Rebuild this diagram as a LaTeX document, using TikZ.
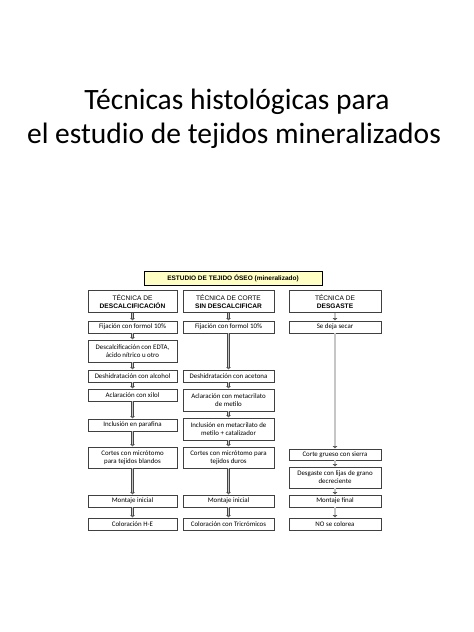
\documentclass[tikz,border=0pt]{standalone}
\usepackage{fontspec}
\setmainfont{Carlito}
\newfontfamily\arialf{Liberation Sans}
\usetikzlibrary{arrows.meta}
\definecolor{hdrfill}{HTML}{FFFFC4}
\definecolor{boxline}{HTML}{404040}
\begin{document}
\begin{tikzpicture}[x=1pt,y=-1pt,
  stepbox/.style={draw=boxline, line width=0.6pt, fill=white, inner sep=0pt, align=center,
     font=\fontsize{6.9}{8.2}\selectfont},
  colhead/.style={stepbox, font=\arialf\fontsize{6.6}{8.5}\selectfont},
  arr/.style={draw=gray!55!black, line width=0.5pt, double=gray!45, double distance=1.5pt,
     -{Triangle[open, length=2.5pt, width=4.4pt]}, shorten >=0.2pt},
  titlefont/.style={font=\fontsize{29.5}{34}\selectfont, anchor=base}
]
\useasboundingbox (0,0) rectangle (474,632);

% title
\node[titlefont] (title1) at (237,109) {Técnicas histológicas para};
\node[titlefont] (title2) at (234,143) {el estudio de tejidos mineralizados};

% main header
\node[draw=black, line width=0.6pt, fill=hdrfill, minimum width=178pt, minimum height=14pt,
  inner sep=0pt, font=\arialf\bfseries\fontsize{6.5}{8}\selectfont] (main) at (233,278)
  {ESTUDIO DE TEJIDO ÓSEO (mineralizado)};

% column headers
\node[colhead, minimum width=89pt, minimum height=22pt] (hdesc) at (132.5,301.5)
  {TÉCNICA DE\\\textbf{DESCALCIFICACIÓN}};
\node[colhead, minimum width=91pt, minimum height=22pt] (hsin) at (228.5,301.5)
  {TÉCNICA DE CORTE\\\textbf{SIN DESCALCIFICAR}};
\node[colhead, minimum width=92pt, minimum height=22pt] (hdesg) at (335,301.5)
  {TÉCNICA DE\\\textbf{DESGASTE}};

% column 1
\begin{scope}[every node/.append style={minimum width=89pt}]
\node[stepbox, minimum height=12pt] (dcA) at (132.5,327) {Fijación con formol 10\%};
\node[stepbox, minimum height=22pt] (dcB) at (132.5,351) {Descalcificación con EDTA,\\ácido nítrico u otro};
\node[stepbox, minimum height=12pt] (dcC) at (132.5,376) {Deshidratación con alcohol};
\node[stepbox, minimum height=12pt] (dcD) at (132.5,395) {Aclaración con xilol};
\node[stepbox, minimum height=12pt] (dcE) at (132.5,425) {Inclusión en parafina};
\node[stepbox, minimum height=21pt] (dcF) at (132.5,457.5) {Cortes con micrótomo\\para tejidos blandos};
\node[stepbox, minimum height=12pt] (dcG) at (132.5,501) {Montaje inicial};
\node[stepbox, minimum height=12pt] (dcH) at (132.5,524) {Coloración H-E};
\end{scope}

% column 2
\begin{scope}[every node/.append style={minimum width=91pt}]
\node[stepbox, minimum height=12pt] (sdA) at (228.5,327) {Fijación con formol 10\%};
\node[stepbox, minimum height=12pt] (sdB) at (228.5,376) {Deshidratación con acetona};
\node[stepbox, minimum height=22pt] (sdC) at (228.5,400) {Aclaración con metacrilato\\de metilo};
\node[stepbox, minimum height=22pt] (sdD) at (228.5,429) {Inclusión en metacrilato de\\metilo + catalizador};
\node[stepbox, minimum height=21pt] (sdE) at (228.5,457.5) {Cortes con micrótomo para\\tejidos duros};
\node[stepbox, minimum height=12pt] (sdF) at (228.5,501) {Montaje inicial};
\node[stepbox, minimum height=12pt] (sdG) at (228.5,524) {Coloración con Tricrómicos};
\end{scope}

% column 3
\begin{scope}[every node/.append style={minimum width=92pt}]
\node[stepbox, minimum height=12pt] (dgA) at (335,327) {Se deja secar};
\node[stepbox, minimum height=11pt] (dgB) at (335,454.5) {Corte grueso con sierra};
\node[stepbox, minimum height=21pt] (dgC) at (335,477.5) {Desgaste con lijas de grano\\decreciente};
\node[stepbox, minimum height=12pt] (dgD) at (335,501) {Montaje final};
\node[stepbox, minimum height=12pt] (dgE) at (335,524) {NO se colorea};
\end{scope}

% arrows column 1
\draw[arr] (hdesc.south) -- (dcA.north);
\draw[arr] (dcA.south) -- (dcB.north);
\draw[arr] (dcB.south) -- (dcC.north);
\draw[arr] (dcC.south) -- (dcD.north);
\draw[arr] (dcD.south) -- (dcE.north);
\draw[arr] (dcE.south) -- (dcF.north);
\draw[arr] (dcF.south) -- (dcG.north);
\draw[arr] (dcG.south) -- (dcH.north);
% arrows column 2
\draw[arr] (hsin.south) -- (sdA.north);
\draw[arr] (sdA.south) -- (sdB.north);
\draw[arr] (sdB.south) -- (sdC.north);
\draw[arr] (sdC.south) -- (sdD.north);
\draw[arr] (sdD.south) -- (sdE.north);
\draw[arr] (sdE.south) -- (sdF.north);
\draw[arr] (sdF.south) -- (sdG.north);
% arrows column 3
\draw[arr] (hdesg.south) -- (dgA.north);
\draw[arr] (dgA.south) -- (dgB.north);
\draw[arr] (dgB.south) -- (dgC.north);
\draw[arr] (dgC.south) -- (dgD.north);
\draw[arr] (dgD.south) -- (dgE.north);
\end{tikzpicture}
\end{document}
